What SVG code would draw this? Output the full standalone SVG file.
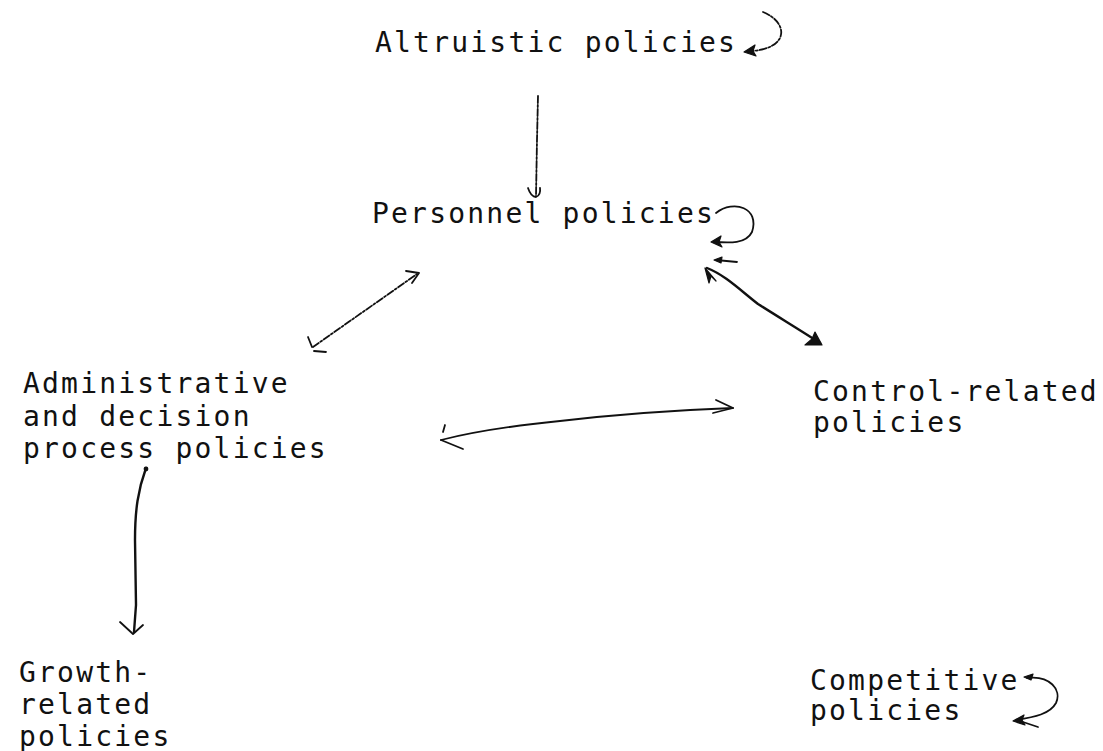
<svg xmlns="http://www.w3.org/2000/svg" width="1103" height="751" viewBox="0 0 1103 751">
<style>
.t{font-family:"DejaVu Sans Mono","Liberation Mono",monospace;font-size:28px;letter-spacing:2.2px;fill:#111}
.c{fill:none;stroke:#111;stroke-width:1.8;stroke-linecap:round;stroke-linejoin:round}
.k{stroke-width:2.4}
.d{stroke-dasharray:7 2 2 2}
.h{fill:#111;stroke:#111;stroke-width:1.2;stroke-linejoin:round}
</style>
<rect width="1103" height="751" fill="#fff"/>
<g id="altruistic"><text class="t" x="375" y="52">Altruistic policies</text></g>
<g id="personnel"><text class="t" x="372" y="223">Personnel policies</text></g>
<g id="administrative"><text class="t"><tspan x="23" y="393">Administrative</tspan><tspan x="23" y="426">and decision</tspan><tspan x="23" y="458">process policies</tspan></text></g>
<g id="control"><text class="t"><tspan x="813" y="401">Control-related</tspan><tspan x="813" y="432">policies</tspan></text></g>
<g id="growth"><text class="t"><tspan x="19" y="682">Growth-</tspan><tspan x="19" y="714">related</tspan><tspan x="19" y="746">policies</tspan></text></g>
<g id="competitive"><text class="t"><tspan x="810" y="690">Competitive</tspan><tspan x="810" y="720">policies</tspan></text></g>
<g id="connectors">
<!-- Altruistic -> Personnel -->
<path class="c d" d="M538 96 L537 140 L536 196"/>
<path class="c" d="M528 188 Q531 197 536 197 Q541 195 540 188"/>
<!-- Altruistic self loop -->
<path class="c d" d="M763 12 C788 22 790 48 752 51"/>
<path class="h" d="M744 52 L755 45 L753 51 L756 56 Z"/>
<!-- Personnel self loop -->
<path class="c" d="M716 213 C734 199 760 208 752 232 C746 244 730 243 714 242"/>
<path class="h" d="M711 242 L721 236 L719 242 L722 247 Z"/>
<!-- small left arrow -->
<path class="c" d="M737 262 L716 260"/>
<path class="h" d="M714 260 L722 257 L721 263 Z"/>
<!-- Personnel <-> Administrative -->
<path class="c d" d="M313 347 L417 274"/>
<path class="c" d="M406 271 L419 273 L412 283"/>
<path class="c" d="M314 351 L326 352"/>
<path class="c" d="M312 347 L308 337"/>
<!-- Personnel <-> Control -->
<path class="c k" d="M707 268 C725 275 740 290 758 304 C780 318 800 330 820 343"/>
<path class="h" d="M705 268 L709 283 L711 276 L716 281 Z"/>
<path class="h" d="M822 345 L805 345 L812 339 L815 332 Z"/>
<!-- Administrative <-> Control -->
<path class="c" d="M441 440 C480 430 520 425 560 421 C620 414 680 410 733 408"/>
<path class="c" d="M441 440 L463 449"/>
<path class="c" d="M443 432 L445 425"/>
<path class="c" d="M716 400 L733 408 L713 413"/>
<!-- Administrative -> Growth -->
<path class="c k" d="M146 468 C138 490 135 510 135 540 L136 605 L134 632"/>
<circle cx="146" cy="469" r="2.4" fill="#111"/>
<path class="c" d="M120 622 L133 634 L143 625"/>
<!-- Competitive self loop -->
<path class="c" d="M1027 678 C1050 675 1062 690 1056 703 C1050 714 1035 717 1016 720"/>
<path class="h" d="M1024 677 L1033 674 L1031 680 Z"/>
<path class="h" d="M1013 721 L1024 715 L1022 720 L1025 725 Z"/>
<path class="c" d="M1020 721 L1038 727"/>
</g>
</svg>
